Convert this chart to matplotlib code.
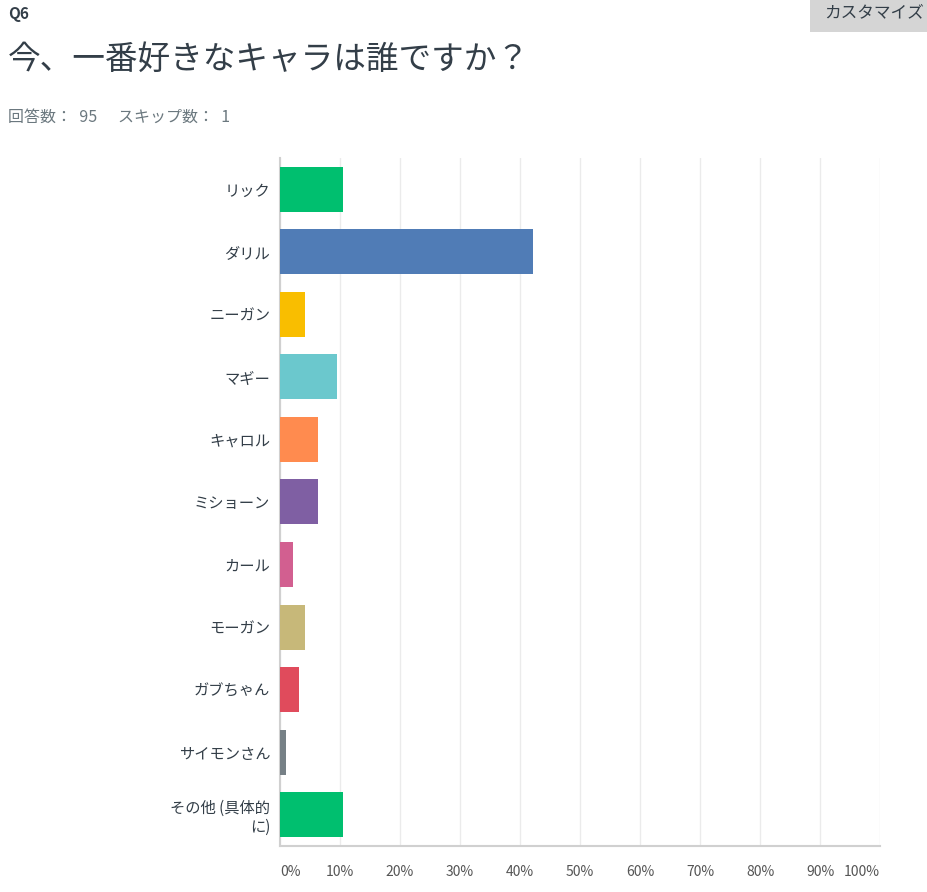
import numpy as np
import matplotlib
matplotlib.use("Agg")
import matplotlib.pyplot as plt
from matplotlib.patches import Rectangle

plt.rcParams['font.family'] = ['Noto Sans CJK JP', 'DejaVu Sans']

# data
characters = ["リック", "ダリル", "ニーガン", "マギー", "キャロル", "ミショーン",
              "カール", "モーガン", "ガブちゃん", "サイモンさん", "その他 (具体的\nに)"]
percents = [10.53, 42.11, 4.21, 9.47, 6.32, 6.32, 2.11, 4.21, 3.16, 1.05, 10.53]
colors = ["#00BF6F", "#507CB6", "#F9BE00", "#6BC8CD", "#FF8B4F", "#7F5FA3",
          "#D25F90", "#C7B879", "#E04B5C", "#768086", "#00BF6F"]
ticks = np.arange(0, 101, 10)
tick_labels = [f"{t}%" for t in ticks]

fig = plt.figure(figsize=(9.28, 8.92), dpi=100)
ax = fig.add_axes([0.3017, 0.0516, 0.6466, 0.7713])

y = np.arange(len(characters))
ax.barh(y, percents, height=0.72, color=colors, zorder=3)
ax.set_ylim(len(characters) - 0.5, -0.5)
ax.set_xlim(0, 100)

ax.set_yticks(y)
ax.set_yticklabels(characters, fontsize=11, color="#333e48")
ax.tick_params(axis="y", length=0, pad=7)
ax.set_xticks(ticks)
ax.set_xticklabels(tick_labels, fontsize=10, color="#555")
ax.tick_params(axis="x", length=0, pad=14)
xl = ax.get_xticklabels()
xl[0].set_ha("left")
xl[-1].set_ha("right")
for lab in ax.get_yticklabels():
    lab.set_multialignment("right")

ax.grid(axis="x", color="#ebebeb", lw=1, zorder=0)
for s in ["top", "right"]:
    ax.spines[s].set_visible(False)
ax.spines["left"].set_color("#d0d0d0")
ax.spines["bottom"].set_color("#d0d0d0")
ax.spines["left"].set_linewidth(1.5)
ax.spines["bottom"].set_linewidth(1.5)

# header
fig.text(8/928, 1 - 14/892, "Q6", fontsize=11, fontweight="bold", color="#333e48", va="center")
fig.text(8/928, 1 - 60/892, "今、一番好きなキャラは誰ですか？", fontsize=23.5, color="#333e48", va="center")
fig.text(8/928, 1 - 117/892, "回答数：  95", fontsize=11.5, color="#6b787f", va="center")
fig.text(118/928, 1 - 117/892, "スキップ数：  1", fontsize=11.5, color="#6b787f", va="center")

fig.patches.append(Rectangle((810/928, 1 - 32/892), 118/928, 32/892, transform=fig.transFigure,
                             facecolor="#d5d5d5", edgecolor="none"))
fig.text(874/928, 1 - 13/892, "カスタマイズ", fontsize=12, color="#333e48", ha="center", va="center")

fig.savefig("out.png", dpi=100)
